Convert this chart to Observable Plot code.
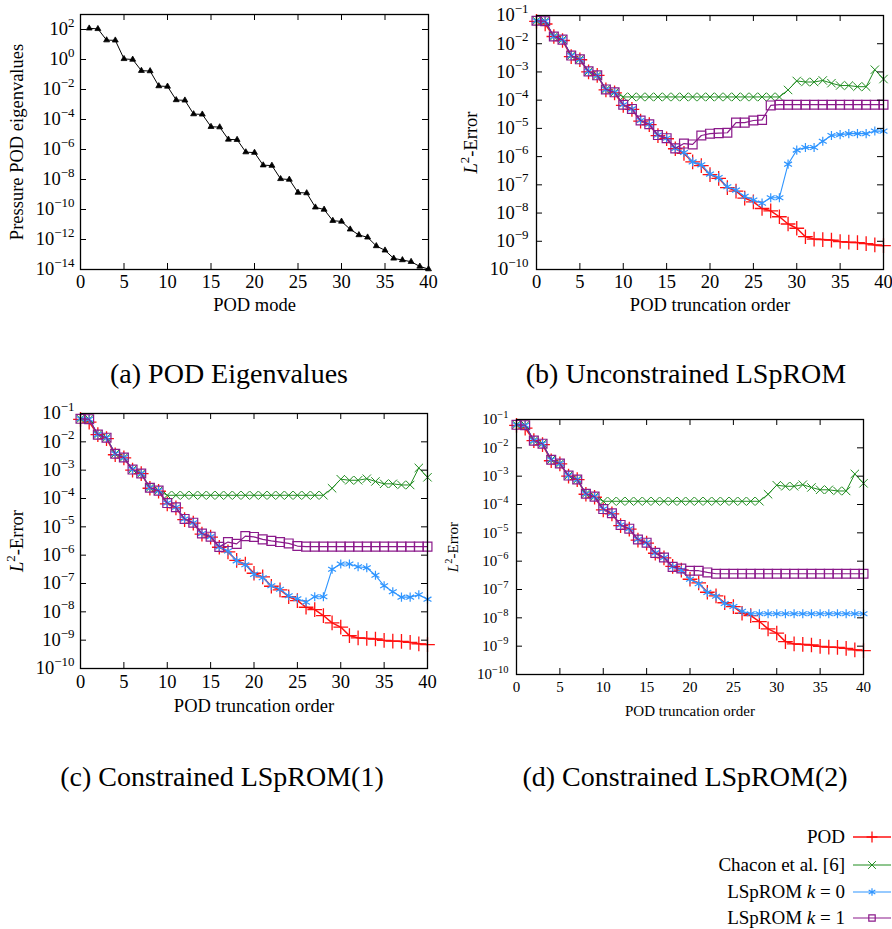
<!DOCTYPE html>
<html>
<head>
<meta charset="utf-8">
<script src="https://cdn.jsdelivr.net/npm/d3@7"></script>
<script src="https://cdn.jsdelivr.net/npm/@observablehq/plot@0.6"></script>
<style>
  body { margin: 0; background: #fff; }
  #root { position: relative; width: 892px; height: 929px; font-family: "Liberation Serif", serif; color: #000; overflow: hidden; }
  .panel { position: absolute; }
  .cap { position: absolute; font-family: "Liberation Serif", serif; font-size: 28px; white-space: nowrap; transform: translate(-50%, -50%); line-height: 1; }
  .leg { position: absolute; right: 47px; font-family: "Liberation Serif", serif; font-size: 19px; white-space: nowrap; line-height: 24px; height: 24px; text-align: right; }
  .legsw { position: absolute; left: 851px; }
</style>
</head>
<body>
<div id="root"></div>
<script>
// ---------------- data ----------------
const modes = [1,2,3,4,5,6,7,8,9,10,11,12,13,14,15,16,17,18,19,20,21,22,23,24,25,26,27,28,29,30,31,32,33,34,35,36,37,38,39,40];
const eigenvalues = [120, 110, 19.5, 19, 1.1, 1.0, 0.18, 0.17, 0.017, 0.016,
  2.0e-3, 1.9e-3, 2.3e-4, 2.2e-4, 3.3e-5, 3.1e-5, 4.7e-6, 4.5e-6, 6.7e-7, 6.2e-7,
  9.0e-8, 8.5e-8, 1.1e-8, 1.0e-8, 1.35e-9, 1.25e-9, 1.4e-10, 1.0e-10, 1.8e-11, 1.6e-11,
  4.8e-12, 2.0e-12, 1.4e-12, 3.7e-13, 1.9e-13, 5.5e-14, 4.3e-14, 3.3e-14, 1.6e-14, 1.07e-14];

const orders = [0,1,2,3,4,5,6,7,8,9,10,11,12,13,14,15,16,17,18,19,20,21,22,23,24,25,26,27,28,29,30,31,32,33,34,35,36,37,38,39,40];

const podError = [0.062, 0.05, 0.018, 0.013, 3.5e-3, 2.7e-3, 1.0e-3, 7.5e-4, 2.3e-4, 1.8e-4,
  6.5e-5, 4.7e-5, 1.8e-5, 1.35e-5, 5.5e-6, 4.3e-6, 1.9e-6, 1.3e-6, 6.5e-7, 4.8e-7,
  2.3e-7, 1.7e-7, 8.0e-8, 6.0e-8, 3.4e-8, 2.5e-8, 1.45e-8, 1.2e-8, 7.4e-9, 4.1e-9,
  2.9e-9, 1.45e-9, 1.2e-9, 1.15e-9, 1.1e-9, 9.8e-10, 9.3e-10, 9.0e-10, 8.3e-10, 7.4e-10, 7.0e-10];

const chaconError = [0.065, 0.063, 0.018, 0.014, 3.8e-3, 2.8e-3, 1.05e-3, 7.6e-4, 2.4e-4, 1.9e-4,
  1.3e-4, 1.3e-4, 1.3e-4, 1.3e-4, 1.3e-4, 1.3e-4, 1.3e-4, 1.3e-4, 1.3e-4, 1.3e-4,
  1.3e-4, 1.3e-4, 1.3e-4, 1.3e-4, 1.3e-4, 1.3e-4, 1.3e-4, 1.3e-4, 1.3e-4, 2.3e-4,
  4.8e-4, 4.4e-4, 4.4e-4, 5.0e-4, 4.0e-4, 3.3e-4, 3.3e-4, 3.0e-4, 3.0e-4, 1.2e-3, 5.6e-4];

// (b) Unconstrained LSpROM
const bK0 = [0.065, 0.063, 0.018, 0.014, 3.8e-3, 2.8e-3, 1.05e-3, 7.6e-4, 2.4e-4, 1.9e-4,
  6.9e-5, 4.9e-5, 1.9e-5, 1.4e-5, 5.8e-6, 4.5e-6, 1.96e-6, 1.4e-6, 6.5e-7, 5.1e-7,
  2.4e-7, 1.8e-7, 8.5e-8, 6.5e-8, 3.9e-8, 2.9e-8, 2.25e-8, 3.5e-8, 3.5e-8, 5.4e-7,
  1.7e-6, 2.1e-6, 2.1e-6, 3.5e-6, 5.6e-6, 6.0e-6, 6.5e-6, 6.5e-6, 6.5e-6, 8.1e-6, 8.0e-6];
const bK1 = [0.065, 0.063, 0.018, 0.014, 3.8e-3, 2.8e-3, 1.05e-3, 7.6e-4, 2.4e-4, 1.9e-4,
  6.9e-5, 4.9e-5, 1.9e-5, 1.4e-5, 5.8e-6, 4.5e-6, 1.96e-6, 2.9e-6, 2.7e-6, 5.6e-6,
  6.5e-6, 6.8e-6, 7.0e-6, 1.6e-5, 1.6e-5, 1.9e-5, 2.0e-5, 6.5e-5, 6.9e-5, 6.9e-5,
  6.9e-5, 6.9e-5, 6.9e-5, 6.9e-5, 6.9e-5, 6.9e-5, 6.9e-5, 6.9e-5, 6.9e-5, 6.9e-5, 6.9e-5];

// (c) Constrained LSpROM(1)
const cK0 = [0.065, 0.063, 0.018, 0.014, 3.8e-3, 2.8e-3, 1.05e-3, 7.6e-4, 2.4e-4, 1.9e-4,
  6.9e-5, 4.9e-5, 1.9e-5, 1.4e-5, 5.8e-6, 4.5e-6, 1.96e-6, 1.4e-6, 6.3e-7, 4.6e-7,
  2.1e-7, 1.6e-7, 8.3e-8, 6.3e-8, 3.7e-8, 2.9e-8, 2.2e-8, 3.4e-8, 3.4e-8, 3.2e-7,
  4.9e-7, 4.9e-7, 3.9e-7, 3.6e-7, 1.95e-7, 8.3e-8, 5.1e-8, 3.3e-8, 3.3e-8, 4.0e-8, 2.8e-8];
const cK1 = [0.065, 0.063, 0.018, 0.014, 3.8e-3, 2.8e-3, 1.05e-3, 7.6e-4, 2.4e-4, 1.9e-4,
  6.9e-5, 4.9e-5, 1.9e-5, 1.4e-5, 5.8e-6, 4.5e-6, 1.96e-6, 2.9e-6, 2.5e-6, 4.7e-6,
  4.4e-6, 3.6e-6, 3.2e-6, 2.9e-6, 2.6e-6, 2.1e-6, 2.0e-6, 2.0e-6, 2.0e-6, 2.0e-6,
  2.0e-6, 2.0e-6, 2.0e-6, 2.0e-6, 2.0e-6, 2.0e-6, 2.0e-6, 2.0e-6, 2.0e-6, 2.0e-6, 2.0e-6];

// (d) Constrained LSpROM(2)
const dK0 = [0.065, 0.063, 0.018, 0.014, 3.8e-3, 2.8e-3, 1.05e-3, 7.6e-4, 2.4e-4, 1.9e-4,
  6.9e-5, 4.9e-5, 1.9e-5, 1.4e-5, 5.8e-6, 4.5e-6, 1.96e-6, 1.35e-6, 6.3e-7, 4.8e-7,
  2.3e-7, 1.6e-7, 7.9e-8, 5.8e-8, 3.2e-8, 2.5e-8, 1.7e-8, 1.4e-8, 1.4e-8, 1.4e-8,
  1.4e-8, 1.4e-8, 1.4e-8, 1.4e-8, 1.4e-8, 1.4e-8, 1.4e-8, 1.4e-8, 1.4e-8, 1.4e-8, 1.4e-8];
const dK1 = [0.065, 0.063, 0.018, 0.014, 3.8e-3, 2.8e-3, 1.05e-3, 7.6e-4, 2.4e-4, 1.9e-4,
  6.9e-5, 4.9e-5, 1.9e-5, 1.4e-5, 5.8e-6, 4.5e-6, 1.96e-6, 1.35e-6, 6.3e-7, 5.5e-7,
  4.6e-7, 4.6e-7, 4.0e-7, 3.6e-7, 3.6e-7, 3.6e-7, 3.6e-7, 3.6e-7, 3.6e-7, 3.6e-7,
  3.6e-7, 3.6e-7, 3.6e-7, 3.6e-7, 3.6e-7, 3.6e-7, 3.6e-7, 3.6e-7, 3.6e-7, 3.6e-7, 3.6e-7];

const xTicks = [0, 5, 10, 15, 20, 25, 30, 35, 40];
const eigTicks = [1e-14, 1e-12, 1e-10, 1e-8, 1e-6, 1e-4, 1e-2, 1, 1e2];
const errTicks = [1e-10, 1e-9, 1e-8, 1e-7, 1e-6, 1e-5, 1e-4, 1e-3, 1e-2, 1e-1];

const seriesNames = ["POD", "Chacon et al. [6]", "LSpROM k = 0", "LSpROM k = 1"];
const captions = ["(a) POD Eigenvalues", "(b) Unconstrained LSpROM", "(c) Constrained LSpROM(1)", "(d) Constrained LSpROM(2)"];

// ---------------- styles ----------------
const STY = {
  pod:    {color: "#ff1010", symbol: "plus",     r: 4.8, lw: 1.5, sw: 1.3},
  chacon: {color: "#1f8c1f", symbol: "times",    r: 3.9, lw: 1.0, sw: 1.0},
  k0:     {color: "#2f95ff", symbol: "asterisk", r: 4.3, lw: 1.1, sw: 1.2},
  k1:     {color: "#8b1a8b", symbol: "square",   r: 5.0, lw: 1.2, sw: 1.2}
};

const toRows = (xs, ys) => xs.map((x, i) => ({x, y: ys[i]}));

function fixTexts(svg, fs) {
  d3.select(svg).selectAll("text").each(function () {
    const t = this.textContent;
    const m = /^10\^(-?\d+)$/.exec(t);
    const el = d3.select(this);
    if (m) {
      el.text(null);
      el.append("tspan").text("10");
      el.append("tspan").attr("dy", -0.45 * fs).attr("font-size", 0.7 * fs).text(m[1].replace("-", "\u2212"));
      return;
    }
    if (t === "L^2-Error") {
      el.text(null);
      el.append("tspan").attr("font-style", "italic").text("L");
      el.append("tspan").attr("dy", -0.42 * fs).attr("font-size", 0.7 * fs).text("2");
      el.append("tspan").attr("dy", 0.42 * fs).text("-Error");
    }
  });
}

function makePanel(o) {
  const pw = o.width - o.mL - o.mR, ph = o.height - o.mT - o.mB;
  const marks = [];
  for (const s of o.series) {
    const st = s.style;
    marks.push(Plot.line(s.data, {x: "x", y: "y", stroke: st.color, strokeWidth: st.lw}));
    marks.push(Plot.dot(s.data, {x: "x", y: "y", symbol: st.symbol, r: st.r, stroke: st.color,
      fill: st.fill || "none", strokeWidth: st.sw}));
  }
  const tl = 6;
  marks.push(Plot.tickY(o.yTicks, {y: d => d, insetRight: pw - tl, stroke: "black"}));
  marks.push(Plot.tickY(o.yTicks, {y: d => d, insetLeft: pw - tl, stroke: "black"}));
  marks.push(Plot.tickX(xTicks, {x: d => d, insetTop: ph - tl, stroke: "black"}));
  marks.push(Plot.tickX(xTicks, {x: d => d, insetBottom: ph - tl, stroke: "black"}));
  marks.push(Plot.frame({stroke: "black", strokeWidth: 1.3}));
  marks.push(Plot.axisY(o.yTicks, {tickSize: 0, tickPadding: o.yPad,
    tickFormat: d => "10^" + Math.round(Math.log10(d)),
    label: o.yLabel, labelAnchor: "center", labelOffset: o.yLabelOffset, labelArrow: false,
    fontSize: o.fs}));
  marks.push(Plot.axisX(xTicks, {tickSize: 0, tickPadding: o.xPad,
    label: o.xLabel, labelAnchor: "center", labelOffset: o.xLabelOffset, labelArrow: false,
    fontSize: o.fs}));
  const svg = Plot.plot({
    width: o.width, height: o.height,
    marginLeft: o.mL, marginRight: o.mR, marginTop: o.mT, marginBottom: o.mB,
    x: {domain: [0, 40]},
    y: {type: "log", domain: o.yDomain},
    style: {fontFamily: "'Liberation Serif', serif", fontSize: o.fs + "px", color: "black",
      background: "transparent", overflow: "visible"},
    marks
  });
  fixTexts(svg, o.fs);
  svg.classList.add("panel");
  svg.style.left = o.left + "px";
  svg.style.top = o.top + "px";
  return svg;
}

const root = document.getElementById("root");

function errSeries(k0, k1) {
  return [
    {style: STY.pod, data: toRows(orders, podError)},
    {style: STY.chacon, data: toRows(orders, chaconError)},
    {style: STY.k0, data: toRows(orders, k0)},
    {style: STY.k1, data: toRows(orders, k1)}
  ];
}

// (a)
root.appendChild(makePanel({
  left: 0, top: 0, width: 446, height: 320, mL: 80, mR: 18, mT: 14, mB: 51,
  fs: 18.5, xPad: 5, yPad: 6, xLabel: "POD mode", yLabel: "Pressure POD eigenvalues",
  xLabelOffset: 41, yLabelOffset: 71, yTicks: eigTicks, yDomain: [1e-14, 1e3],
  series: [{style: {color: "black", symbol: "triangle", r: 2.2, lw: 1, sw: 0.8, fill: "black"},
            data: toRows(modes, eigenvalues)}]
}));
// (b)
root.appendChild(makePanel({
  left: 446, top: 0, width: 446, height: 320, mL: 90, mR: 9, mT: 15, mB: 51,
  fs: 18.5, xPad: 5, yPad: 8, xLabel: "POD truncation order", yLabel: "L^2-Error",
  xLabelOffset: 41, yLabelOffset: 73, yTicks: errTicks, yDomain: [1e-10, 1e-1],
  series: errSeries(bK0, bK1)
}));
// (c)
root.appendChild(makePanel({
  left: 0, top: 395, width: 446, height: 330, mL: 80, mR: 19, mT: 18, mB: 57,
  fs: 18.5, xPad: 6, yPad: 6, xLabel: "POD truncation order", yLabel: "L^2-Error",
  xLabelOffset: 43, yLabelOffset: 71, yTicks: errTicks, yDomain: [1e-10, 1e-1],
  series: errSeries(cK0, cK1)
}));
// (d)
root.appendChild(makePanel({
  left: 446, top: 395, width: 446, height: 330, mL: 70, mR: 29, mT: 24, mB: 51,
  fs: 15, xPad: 7, yPad: 8, xLabel: "POD truncation order", yLabel: "L^2-Error",
  xLabelOffset: 41, yLabelOffset: 69, yTicks: errTicks, yDomain: [1e-10, 1e-1],
  series: errSeries(dK0, dK1)
}));

// captions
const capPos = [[229, 374], [686, 374], [222, 777], [685, 777]];
captions.forEach((c, i) => {
  const d = document.createElement("div");
  d.className = "cap";
  d.textContent = c;
  d.style.left = capPos[i][0] + "px";
  d.style.top = capPos[i][1] + "px";
  root.appendChild(d);
});

// legend
const legStyles = [STY.pod, STY.chacon, STY.k0, STY.k1];
const legY = [837, 865, 892, 918];
seriesNames.forEach((name, i) => {
  const row = document.createElement("div");
  row.className = "leg";
  row.style.top = (legY[i] - 12) + "px";
  const m = /^(LSpROM) k = (\d)$/.exec(name);
  if (m) {
    row.append(m[1] + " ");
    const it = document.createElement("i");
    it.textContent = "k";
    row.append(it);
    row.append(" = " + m[2]);
  } else {
    row.textContent = name;
  }
  root.appendChild(row);
  const st = legStyles[i];
  const sw = d3.create("svg").attr("class", "legsw").attr("width", 42).attr("height", 16)
    .style("top", (legY[i] - 8) + "px");
  sw.append("line").attr("x1", 2).attr("x2", 40).attr("y1", 8).attr("y2", 8)
    .attr("stroke", st.color).attr("stroke-width", st.lw);
  const symMap = {plus: d3.symbolPlus, times: d3.symbolTimes, asterisk: d3.symbolAsterisk, square: d3.symbolSquare};
  sw.append("path").attr("transform", "translate(21,8)")
    .attr("d", d3.symbol(symMap[st.symbol], Math.PI * 3.6 * 3.6)())
    .attr("fill", "none").attr("stroke", st.color).attr("stroke-width", st.sw);
  root.appendChild(sw.node());
});
</script>
</body>
</html>
